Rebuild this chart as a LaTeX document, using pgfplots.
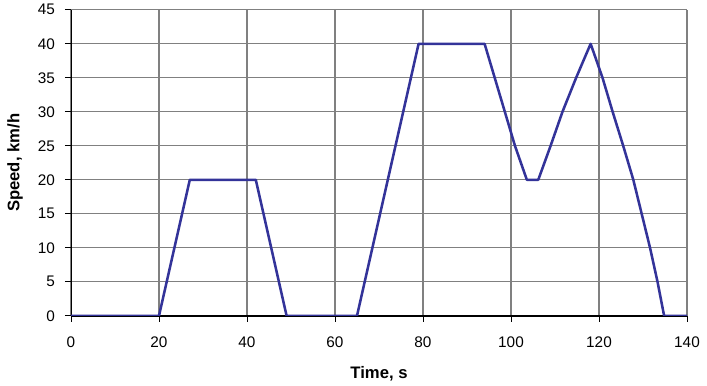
\documentclass[border=0pt]{standalone}
\usepackage{pgfplots}
\pgfplotsset{compat=1.18}
\usepackage{fontspec}
\setmainfont{Liberation Sans}
\definecolor{series}{RGB}{51,51,153}
\definecolor{gridc}{RGB}{128,128,128}
\begin{document}
\begin{tikzpicture}
\begin{axis}[
  scale only axis,
  width=462pt, height=229.5pt,
  xmin=0, xmax=140, ymin=0, ymax=45,
  xtick distance=20, ytick distance=5,
  axis x line*=bottom, axis y line*=left,
  axis line style={-},
  x axis line style={line width=1.6pt},
  y axis line style={line width=0.6pt},
  grid=major,
  major grid style={draw=gridc, line width=0.8pt},
  tick align=outside,
  major tick length=4.5pt,
  tick style={black, line width=0.6pt},
  /pgf/number format/assume math mode=true,
  tick label style={font=\fontsize{11.5}{13}\selectfont},
  xticklabel style={anchor=center, yshift=-15pt},
  yticklabel style={anchor=east, xshift=-4pt},
  every axis x label/.style={at={(axis description cs:0.5,0)}, anchor=center, yshift=-43.5pt, font=\fontsize{12.5}{14}\selectfont\bfseries},
  every axis y label/.style={at={(axis description cs:0,0.5)}, anchor=center, xshift=-42pt, rotate=90, font=\fontsize{12.5}{14}\selectfont\bfseries},
  xlabel={Time, s},
  ylabel={Speed, km/h},
]
\addplot[color=series, line width=1.9pt, line join=round] coordinates {
(0,0) (20,0) (27,20) (42,20) (49,0) (65,0) (79,40) (94,40)
(98.6,30) (100.9,25) (103.6,20) (106.2,20)
(109,25) (111.7,30) (114.8,35) (118.1,40)
(120.8,35) (123.1,30) (125.5,25) (127.8,20) (129.7,15) (131.6,10) (133.3,5) (134.8,0) (140,0)
};
\end{axis}
\path ([shift={(-53.25pt,-48pt)}]current axis.south west) rectangle ([shift={(15pt,6pt)}]current axis.north east);
\end{tikzpicture}
\end{document}
